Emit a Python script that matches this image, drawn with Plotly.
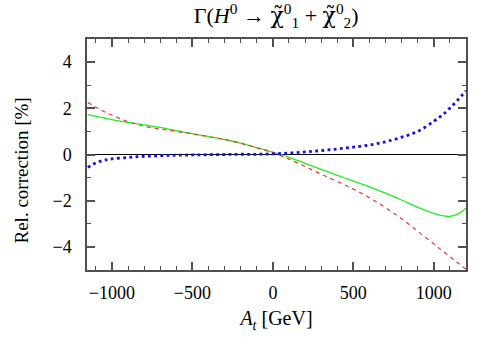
import plotly.graph_objects as go

# A_t values [GeV]
A_t = [-1150, -1100, -1050, -1000, -900, -800, -700, -600, -500, -400, -300, -200, -100,
       0, 100, 200, 300, 400, 500, 600, 700, 800, 900, 1000, 1050, 1100, 1150, 1200]

# Relative corrections [%]
green_solid = [1.73, 1.65, 1.58, 1.51, 1.39, 1.28, 1.17, 1.03, 0.90, 0.78, 0.65, 0.49, 0.30,
               0.10, -0.12, -0.38, -0.64, -0.90, -1.15, -1.40, -1.67, -1.97, -2.29, -2.55, -2.65, -2.68, -2.57, -2.33]
red_dashed = [2.25, 2.05, 1.86, 1.70, 1.42, 1.22, 1.10, 1.00, 0.89, 0.77, 0.65, 0.49, 0.29,
              0.08, -0.20, -0.52, -0.85, -1.17, -1.50, -1.87, -2.30, -2.78, -3.32, -3.87, -4.15, -4.42, -4.70, -4.97]
blue_dotted = [-0.56, -0.36, -0.25, -0.19, -0.13, -0.08, -0.05, -0.03, -0.02, -0.01, 0.00, 0.01, 0.01,
               0.03, 0.06, 0.11, 0.17, 0.24, 0.32, 0.41, 0.55, 0.75, 1.00, 1.44, 1.69, 2.01, 2.37, 2.76]

x_ticks = [-1000, -500, 0, 500, 1000]
y_ticks = [-4, -2, 0, 2, 4]

FONT = "Liberation Serif"
AX = "#505050"

fig = go.Figure()
fig.add_trace(go.Scatter(x=A_t, y=green_solid, mode="lines", line=dict(color="#22ee22", width=1.3, shape="spline")))
fig.add_trace(go.Scatter(x=A_t, y=red_dashed, mode="lines", line=dict(color="#ee3333", width=1.2, dash="4px,4px", shape="spline")))
fig.add_trace(go.Scatter(x=A_t, y=blue_dotted, mode="lines", line=dict(color="#1010ee", width=2.8, dash="2.8px,3.4px", shape="spline")))

axis_common = dict(
    showline=True, linecolor=AX, linewidth=1.5, mirror="ticks",
    ticks="inside", ticklen=8, tickwidth=1.5, tickcolor=AX,
    showgrid=False, tickfont=dict(family=FONT, size=18, color="black"),
)
fig.update_xaxes(range=[-1155, 1200], tickvals=x_ticks, zeroline=False,
                 minor=dict(ticks="inside", dtick=100, tick0=0, ticklen=4, tickcolor=AX, tickwidth=1),
                 ticklabelstandoff=6,
                 title=dict(text="<i>A</i><sub><i>t</i></sub> [GeV]", font=dict(family=FONT, size=20, color="black"), standoff=9),
                 **axis_common)
fig.update_yaxes(range=[-5, 5], tickvals=y_ticks, zeroline=True, zerolinecolor="black", zerolinewidth=1,
                 minor=dict(ticks="inside", dtick=1, tick0=0, ticklen=4, tickcolor=AX, tickwidth=1),
                 ticklabelstandoff=10,
                 **axis_common)

fig.add_annotation(text="Rel. correction [%]", xref="paper", yref="paper", x=-0.172, y=0.43,
                   textangle=-90, showarrow=False, font=dict(family=FONT, size=19, color="black"),
                   xanchor="center", yanchor="middle")

chi = '<span style="font-family:DejaVu Serif">χ̃</span>'
fig.update_layout(
    width=488, height=338,
    margin=dict(l=87, r=22, t=39, b=66),
    paper_bgcolor="white", plot_bgcolor="white",
    showlegend=False,
    font=dict(family=FONT, color="black"),
    title=dict(text=f"Γ(<i>H</i><sup>0</sup> → {chi}<sup>0</sup><sub>1</sub> + {chi}<sup>0</sup><sub>2</sub>)",
               x=0.566, xanchor="center", y=0.955, yanchor="middle", yref="container",
               font=dict(family=FONT, size=22, color="black")),
)

fig.write_html("out.html", config={"displayModeBar": False},
               post_script="document.body.style.margin='0';document.body.style.overflow='hidden';")
